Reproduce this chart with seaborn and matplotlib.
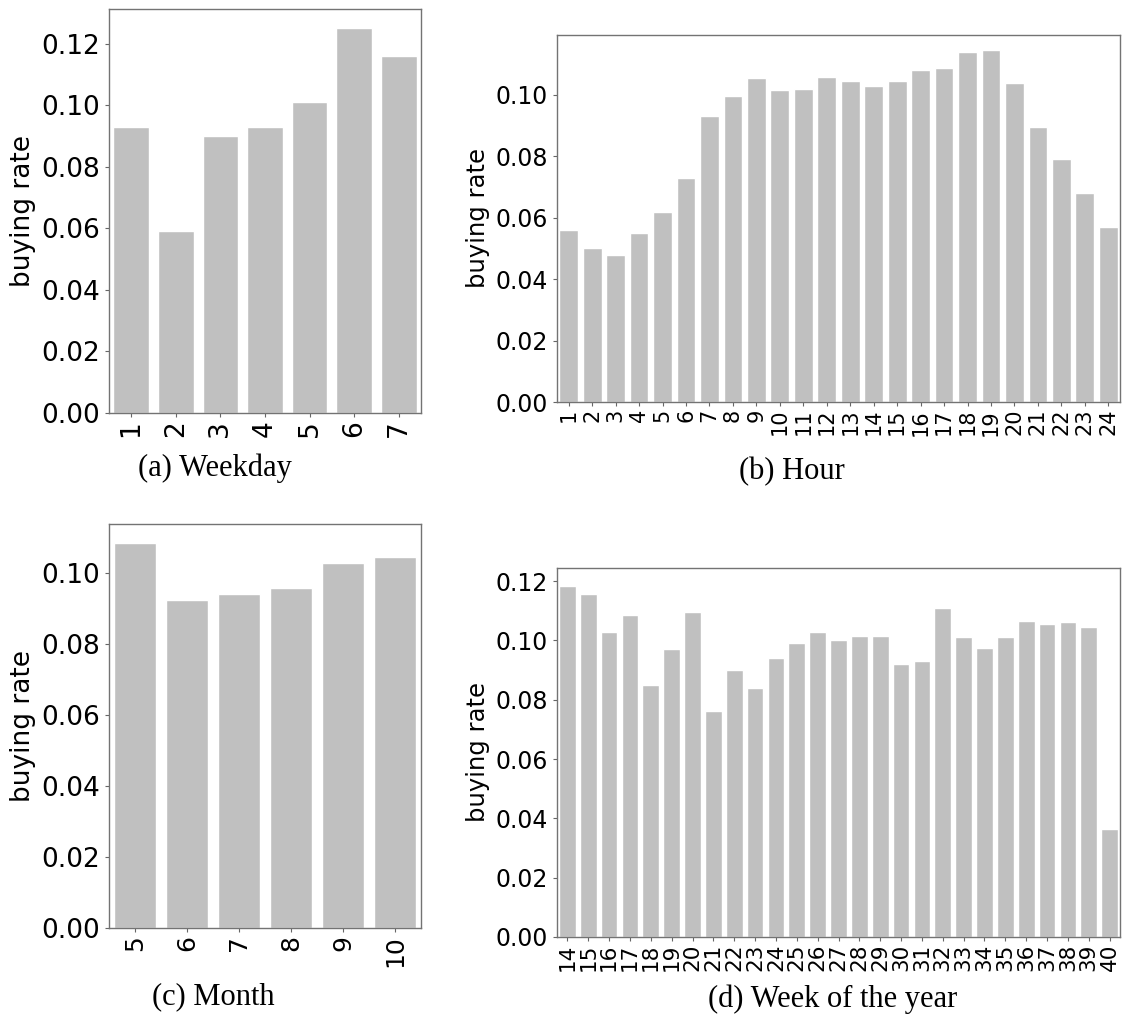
import matplotlib
matplotlib.use("Agg")
import matplotlib.pyplot as plt
import seaborn as sns
import pandas as pd

# ---- data ----
weekday_labels = ["1", "2", "3", "4", "5", "6", "7"]
weekday_rate = [0.093, 0.059, 0.090, 0.093, 0.101, 0.125, 0.116]

hour_labels = [str(h) for h in range(1, 25)]
hour_rate = [0.056, 0.050, 0.048, 0.055, 0.062, 0.073, 0.093, 0.0995,
             0.1055, 0.1015, 0.102, 0.1058, 0.1045, 0.103, 0.1045, 0.108,
             0.1087, 0.114, 0.1146, 0.104, 0.0895, 0.079, 0.068, 0.057]

month_labels = ["5", "6", "7", "8", "9", "10"]
month_rate = [0.1085, 0.0925, 0.0942, 0.0958, 0.1028, 0.1045]

week_labels = [str(w) for w in range(14, 41)]
week_rate = [0.1185, 0.1155, 0.103, 0.1085, 0.085, 0.097, 0.1095, 0.0762,
             0.090, 0.084, 0.094, 0.099, 0.1027, 0.100, 0.1015, 0.1015,
             0.092, 0.093, 0.111, 0.101, 0.0975, 0.101, 0.1067, 0.1055,
             0.1063, 0.1045, 0.0365]

captions = ["(a) Weekday", "(b) Hour", "(c) Month", "(d) Week of the year"]

sns.set_style("ticks")
plt.rcParams['font.family'] = ['DejaVu Sans']
plt.rcParams.update({"text.color": "black", "axes.labelcolor": "black",
                     "xtick.labelcolor": "black", "ytick.labelcolor": "black"})

fig = plt.figure(figsize=(11.24, 10.18), dpi=100)
W, H = 1124, 1018

def axes_px(l, t, r, b):
    return fig.add_axes([l / W, (H - b) / H, (r - l) / W, (b - t) / H])

panels = [
    (axes_px(109, 9, 421, 413), weekday_labels, weekday_rate, 19, 19, 19, None),
    (axes_px(557, 35, 1120, 402), hour_labels, hour_rate, 17, 15, 17.5, 0.1195),
    (axes_px(109, 524, 421, 928), month_labels, month_rate, 19, 18, 19, None),
    (axes_px(557, 568, 1120, 937), week_labels, week_rate, 17, 15.5, 17.5, None),
]

for ax, labels, vals, ytfs, xtfs, ylfs, ytop in panels:
    df = pd.DataFrame({"x": labels, "rate": vals})
    sns.barplot(data=df, x="x", y="rate", ax=ax, color="#c0c0c0",
                saturation=1, width=0.8, edgecolor="white", linewidth=1)
    ax.set_xlabel("")
    ax.set_ylabel("buying rate", fontsize=ylfs, labelpad=4)
    ax.tick_params(axis="y", labelsize=ytfs, length=3, color="0.4")
    ax.tick_params(axis="x", labelsize=xtfs, labelrotation=90, length=3,
                   color="0.4", pad=2)
    ax.yaxis.set_major_formatter(matplotlib.ticker.FormatStrFormatter("%.2f"))
    ax.margins(y=0.05)
    if ytop is not None:
        ax.set_ylim(0, ytop)
    for s in ax.spines.values():
        s.set_visible(True)
        s.set_color("0.45")
        s.set_linewidth(1.0)

cap_pos = [(215, 468), (792, 472), (213, 997), (833, 999)]
for (cx, cy), txt in zip(cap_pos, captions):
    fig.text(cx / W, (H - cy) / H, txt, ha="center", va="center",
             fontsize=22, family="Liberation Serif")

fig.savefig("out.png", dpi=100)
